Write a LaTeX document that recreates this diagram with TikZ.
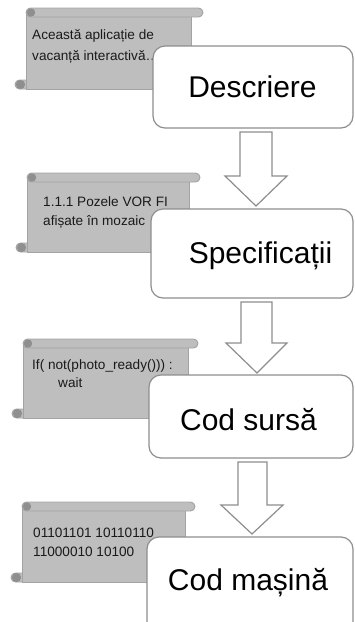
\documentclass[tikz,border=0pt]{standalone}
\usepackage{fontspec}
\setmainfont{Liberation Sans}
\definecolor{scrollfill}{HTML}{BEBEBE}
\definecolor{scrollline}{HTML}{A3A3A3}
\definecolor{curlcol}{HTML}{8F8F8F}
\definecolor{boxline}{HTML}{8E8E8E}
\definecolor{txt}{HTML}{1A1A1A}
\tikzset{
  scrollpart/.style={fill=scrollfill, draw=scrollline, line width=0.9pt},
  curl/.style={fill=curlcol, draw=none},
  stagebox/.style={draw=boxline, fill=white, line width=1.2pt, rounded corners=12pt, inner sep=0pt},
  stagetext/.style={anchor=base, inner sep=0pt, font=\fontsize{30}{36}\selectfont},
  scrolltext/.style={anchor=base west, inner sep=0pt, text=txt, font=\fontsize{13.6}{16}\selectfont},
  blockarrow/.style={draw=boxline, fill=white, line width=1.2pt, line join=miter}
}
% #1 L, #2 R, #3 roller right, #4 T, #5 B
\newcommand\myscroll[5]{%
  \draw[scrollpart, rounded corners=4.5pt] (#1-11,#5-9) rectangle (#1+6,#5);
  \draw[scrollpart] (#1,#4+4.5) rectangle (#2,#5);
  \fill[curl] (#1-5.5,#5-4.5) circle[radius=4.6pt];
  \draw[scrollpart, rounded corners=4.5pt] (#1,#4) rectangle (#3,#4+9);
  \fill[curl] (#1+5,#4+4.5) circle[radius=4.2pt];
}
% #1 shaft left, #2 shaft right, #3 top, #4 head y, #5 head left, #6 head right, #7 tip x, #8 tip y
\newcommand\myblockarrow[8]{%
  \draw[blockarrow] (#1,#3) -- (#2,#3) -- (#2,#4) -- (#6,#4) -- (#7,#8) -- (#5,#4) -- (#1,#4) -- cycle;
}
\begin{document}
\begin{tikzpicture}[x=1pt,y=-1pt]
\useasboundingbox (0,0) rectangle (355,622);
\clip (0,0) rectangle (355,622);
% scrolls
\myscroll{26}{191}{203}{8}{89}
\myscroll{27}{189}{200}{173}{252}
\myscroll{23}{188}{198}{339}{418}
\myscroll{22}{185}{195}{502}{582}
% scroll texts
\node[scrolltext] (s1a) at (32,39) {Această aplicație de};
\node[scrolltext] (s1b) at (32,60) {vacanță interactivă…};
\node[scrolltext] (s2a) at (43,206) {1.1.1 Pozele VOR FI};
\node[scrolltext] (s2b) at (43,225) {afișate în mozaic};
\node[scrolltext] (s3a) at (32,369) {If( not(photo\_ready())) :};
\node[scrolltext] (s3b) at (58,387) {wait};
\node[scrolltext] (s4a) at (33,537) {01101101 10110110};
\node[scrolltext] (s4b) at (33,556) {11000010 10100};
% stage boxes
\node[stagebox, minimum width=200pt, minimum height=82pt] (b1) at (253,87) {};
\node[stagebox, minimum width=202pt, minimum height=89pt] (b2) at (252,253.5) {};
\node[stagebox, minimum width=204pt, minimum height=83pt] (b3) at (251,416.5) {};
\node[stagebox, minimum width=206pt, minimum height=106pt] (b4) at (250,590) {};
% stage texts
\node[stagetext] (t1) at (252.5,97) {Descriere};
\node[stagetext] (t2) at (260.5,263) {Specificații};
\node[stagetext] (t3) at (248.5,430) {Cod sursă};
\node[stagetext] (t4) at (248,590) {Cod mașină};
% block arrows
\myblockarrow{240}{272}{132}{176}{225}{287}{256}{206}
\myblockarrow{241}{272}{302}{343}{226}{287}{257}{373}
\myblockarrow{238}{267}{462}{505}{221}{283}{252}{534}
\end{tikzpicture}
\end{document}
